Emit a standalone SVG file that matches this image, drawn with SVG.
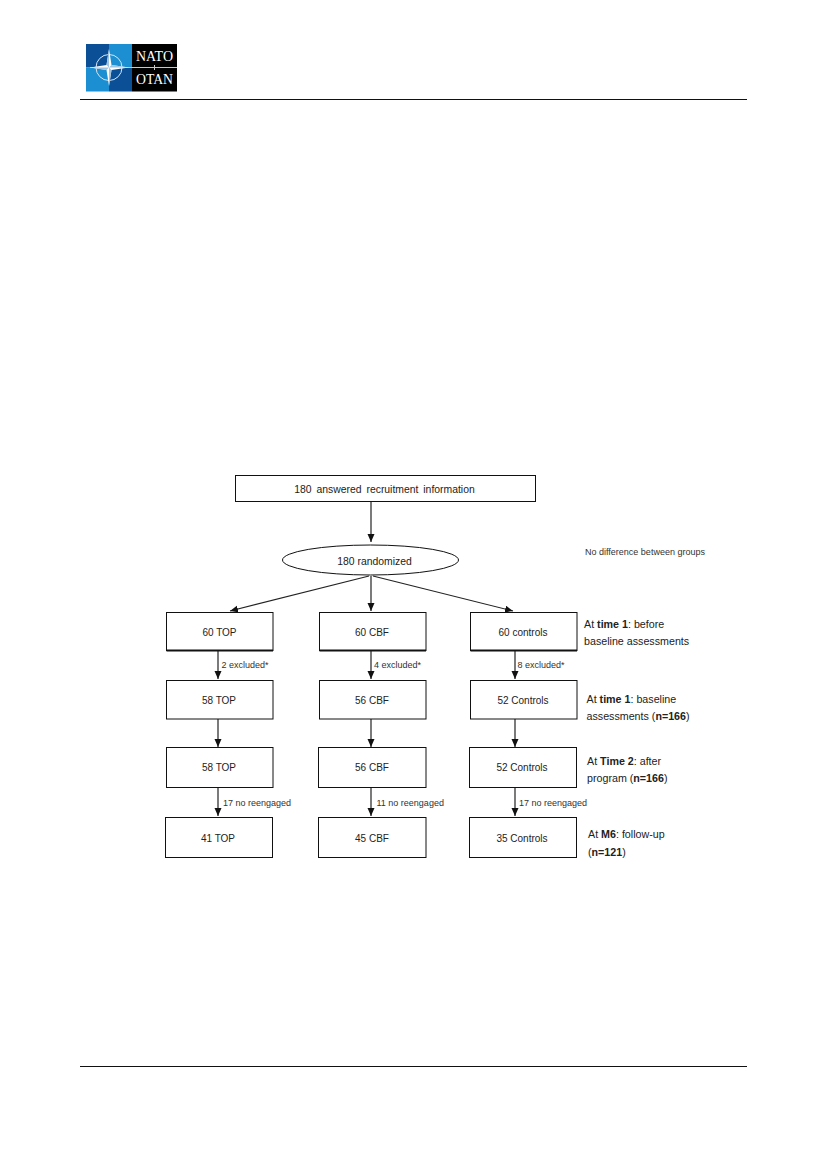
<svg xmlns="http://www.w3.org/2000/svg" width="827" height="1169" viewBox="0 0 827 1169">
<style>
.box{fill:#fff;stroke:#111;stroke-width:1}
.con{fill:none;stroke:#222;stroke-width:1.2}
.t{font-family:"Liberation Sans",Arial,sans-serif;font-size:10px;fill:#222}
.c{text-anchor:middle}
.s{font-size:9px;fill:#333}
.n{font-size:10.700px}
.b{font-weight:bold}
.rule{stroke:#111;stroke-width:1}
.logo{font-family:"Liberation Serif","Times New Roman",serif;font-size:15.500px;fill:#fff;text-anchor:middle}
</style>
<defs>
<marker id="a" markerUnits="userSpaceOnUse" markerWidth="9" markerHeight="8" refX="8" refY="3.500" orient="auto"><path d="M0 0L8 3.500L0 7z" fill="#111"/></marker>
</defs>
<rect width="827" height="1169" fill="#fff"/>
<g id="logo">
<rect x="86" y="44" width="23" height="23.500" fill="#0b4f97"/>
<rect x="109" y="44" width="23" height="23.500" fill="#1b8fd2"/>
<rect x="86" y="67.500" width="23" height="24" fill="#1b8fd2"/>
<rect x="109" y="67.500" width="23" height="24" fill="#0b4f97"/>
<rect x="132" y="44" width="45" height="47.500" fill="#000"/>
<circle cx="109" cy="67.500" r="13" fill="none" stroke="#d5e6f3" stroke-width="1"/>
<line x1="90" y1="67.500" x2="177" y2="67.500" stroke="#c8c8c8" stroke-width="1"/>
<path d="M109 49L111.500 65L129 67.500L111.500 70L109 86L106.500 70L90 67.500L106.500 65z" fill="#fff"/>
<path d="M109 67.500L109 49L106.500 65z M109 67.500L129 67.500L111.500 65z M109 67.500L109 86L111.500 70z M109 67.500L90 67.500L106.500 70z" fill="#9fc4e0"/>
<line x1="154.500" y1="65" x2="154.500" y2="70" stroke="#c8c8c8" stroke-width="1"/>
<text class="logo" x="154.500" y="61" textLength="37" lengthAdjust="spacingAndGlyphs">NATO</text>
<text class="logo" x="154.500" y="84" textLength="37" lengthAdjust="spacingAndGlyphs">OTAN</text>
</g>
<line class="rule" x1="80" y1="99.500" x2="747" y2="99.500"/>
<line class="rule" x1="80" y1="1066.500" x2="747" y2="1066.500"/>
<g id="connectors">
<path class="con" marker-end="url(#a)" d="M371 501L371 542"/>
<path class="con" marker-end="url(#a)" d="M369 576L230 611"/>
<path class="con" marker-end="url(#a)" d="M371 576L371 611"/>
<path class="con" marker-end="url(#a)" d="M373 576L513 611"/>
<path class="con" marker-end="url(#a)" d="M218 651L218 679"/>
<path class="con" marker-end="url(#a)" d="M371 651L371 679"/>
<path class="con" marker-end="url(#a)" d="M515 651L515 679"/>
<path class="con" marker-end="url(#a)" d="M218 719L218 747"/>
<path class="con" marker-end="url(#a)" d="M371 719L371 747"/>
<path class="con" marker-end="url(#a)" d="M515 719L515 747"/>
<path class="con" marker-end="url(#a)" d="M218 787L218 816"/>
<path class="con" marker-end="url(#a)" d="M371 787L371 816"/>
<path class="con" marker-end="url(#a)" d="M515 787L515 816"/>
<text class="t s" x="221.500" y="668">2 excluded*</text>
<text class="t s" x="374" y="668">4 excluded*</text>
<text class="t s" x="517.500" y="668">8 excluded*</text>
<text class="t s" x="223" y="806">17 no reengaged</text>
<text class="t s" x="376.500" y="806">11 no reengaged</text>
<text class="t s" x="519" y="806">17 no reengaged</text>
</g>
<g id="n-recruit"><rect class="box" x="235.500" y="475.500" width="300" height="26"/><text class="t c" x="384.500" y="493" word-spacing="2" style="font-size:10.400px">180 answered recruitment information</text></g>
<g id="n-random"><ellipse class="box" cx="370.500" cy="560" rx="88" ry="15"/><text class="t c" x="374.500" y="565" style="font-size:10.400px">180 randomized</text></g>
<g id="n-60top"><rect class="box" x="166.500" y="612.500" width="106.500" height="38"/><line x1="166.500" y1="650.500" x2="273" y2="650.500" stroke="#111" stroke-width="2"/><text class="t c" x="219.500" y="636">60 TOP</text></g>
<g id="n-60cbf"><rect class="box" x="319.500" y="612.500" width="106.500" height="38"/><line x1="319.500" y1="650.500" x2="426" y2="650.500" stroke="#111" stroke-width="2"/><text class="t c" x="372" y="636">60 CBF</text></g>
<g id="n-60ctl"><rect class="box" x="470.500" y="612.500" width="106.500" height="38"/><line x1="470.500" y1="650.500" x2="577" y2="650.500" stroke="#111" stroke-width="2"/><text class="t c" x="523" y="636">60 controls</text></g>
<g id="n-58top"><rect class="box" x="166.500" y="680.500" width="106.500" height="38.500"/><text class="t c" x="219" y="704">58 TOP</text></g>
<g id="n-56cbf"><rect class="box" x="319.500" y="680.500" width="106.500" height="38.500"/><text class="t c" x="372" y="704">56 CBF</text></g>
<g id="n-52ctl"><rect class="box" x="470.500" y="680.500" width="106.500" height="38.500"/><text class="t c" x="523" y="704">52 Controls</text></g>
<g id="n-58top2"><rect class="box" x="166.500" y="747.500" width="106.500" height="40"/><text class="t c" x="219" y="771">58 TOP</text></g>
<g id="n-56cbf2"><rect class="box" x="318.500" y="747.500" width="107.500" height="40"/><text class="t c" x="372" y="771">56 CBF</text></g>
<g id="n-52ctl2"><rect class="box" x="469.500" y="747.500" width="107" height="40"/><text class="t c" x="522" y="771">52 Controls</text></g>
<g id="n-41top"><rect class="box" x="165.500" y="817.500" width="107" height="40"/><text class="t c" x="218" y="842">41 TOP</text></g>
<g id="n-45cbf"><rect class="box" x="318.500" y="817.500" width="107.500" height="40"/><text class="t c" x="372" y="842">45 CBF</text></g>
<g id="n-35ctl"><rect class="box" x="469.500" y="817.500" width="107" height="40"/><text class="t c" x="522" y="842">35 Controls</text></g>
<g id="notes">
<text class="t s" x="585" y="555">No difference between groups</text>
<text class="t n" x="584" y="628">At <tspan class="b">time 1</tspan>: before</text>
<text class="t n" x="584" y="645">baseline assessments</text>
<text class="t n" x="586.500" y="703">At <tspan class="b">time 1</tspan>: baseline</text>
<text class="t n" x="586.500" y="720">assessments (<tspan class="b">n=166</tspan>)</text>
<text class="t n" x="587" y="765">At <tspan class="b">Time 2</tspan>: after</text>
<text class="t n" x="587" y="782">program (<tspan class="b">n=166</tspan>)</text>
<text class="t n" x="588" y="838">At <tspan class="b">M6</tspan>: follow-up</text>
<text class="t n" x="588" y="856">(<tspan class="b">n=121</tspan>)</text>
</g>
</svg>
